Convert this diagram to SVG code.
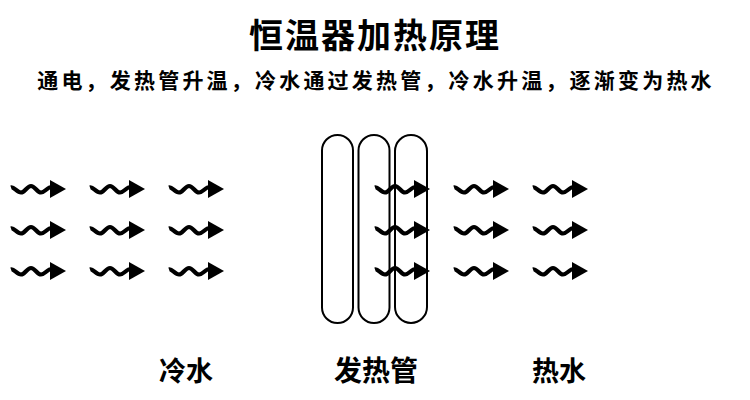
<svg xmlns="http://www.w3.org/2000/svg" xmlns:xlink="http://www.w3.org/1999/xlink" width="750" height="400" viewBox="0 0 750 400">
  <style>
    .t { font-family: "Noto Sans CJK SC", "Noto Sans", sans-serif; font-weight: bold; fill: #000; text-anchor: middle; }
    .wave { fill: none; stroke: #000; stroke-width: 4.2; stroke-linecap: butt; }
    .head { fill: #000; }
    .tube { fill: none; stroke: #000; stroke-width: 2; }
  </style>
  <defs>
    <g id="heat-arrow">
      <path class="wave" d="M0,-1.5 C3,-2.5 6,3.5 10,3.5 S16,-3 20,-3 S26,3.5 30,3.5 S36,-2 41,-2"/>
      <polygon class="head" points="39,-9 55,0 39,9"/>
    </g>
  </defs>
  <rect width="750" height="400" fill="#fff"/>
  <g id="title">
    <text class="t" x="375" y="48" font-size="34" letter-spacing="2">恒温器加热原理</text>
    <text class="t" x="376" y="88" font-size="21" letter-spacing="3.2">通电，发热管升温，冷水通过发热管，冷水升温，逐渐变为热水</text>
  </g>
  <g id="cold-water">
    <use xlink:href="#heat-arrow" x="11" y="189"/>
    <use xlink:href="#heat-arrow" x="90" y="189"/>
    <use xlink:href="#heat-arrow" x="169" y="189"/>
    <use xlink:href="#heat-arrow" x="11" y="230"/>
    <use xlink:href="#heat-arrow" x="90" y="230"/>
    <use xlink:href="#heat-arrow" x="169" y="230"/>
    <use xlink:href="#heat-arrow" x="11" y="271"/>
    <use xlink:href="#heat-arrow" x="90" y="271"/>
    <use xlink:href="#heat-arrow" x="169" y="271"/>
    <text class="t" x="186" y="381" font-size="27">冷水</text>
  </g>
  <g id="heating-tube">
    <use xlink:href="#heat-arrow" x="375" y="189"/>
    <use xlink:href="#heat-arrow" x="375" y="230"/>
    <use xlink:href="#heat-arrow" x="375" y="271"/>
    <rect class="tube" x="322" y="135" width="31" height="188" rx="15.5"/>
    <rect class="tube" x="358.5" y="135" width="31" height="188" rx="15.5"/>
    <rect class="tube" x="395" y="135" width="32" height="188" rx="16"/>
    <text class="t" x="376" y="381" font-size="28">发热管</text>
  </g>
  <g id="hot-water">
    <use xlink:href="#heat-arrow" x="454" y="189"/>
    <use xlink:href="#heat-arrow" x="533" y="189"/>
    <use xlink:href="#heat-arrow" x="454" y="230"/>
    <use xlink:href="#heat-arrow" x="533" y="230"/>
    <use xlink:href="#heat-arrow" x="454" y="271"/>
    <use xlink:href="#heat-arrow" x="533" y="271"/>
    <text class="t" x="559" y="381" font-size="27">热水</text>
  </g>
  <g id="connectors"/>
</svg>
